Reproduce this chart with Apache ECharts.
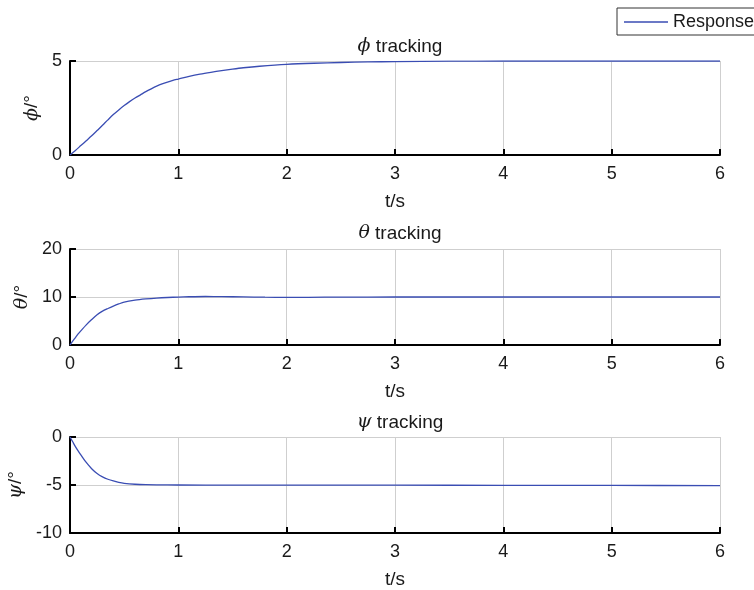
<!DOCTYPE html>
<html><head><meta charset="utf-8">
<script src="https://cdn.jsdelivr.net/npm/echarts@6/dist/echarts.min.js"></script>
<style>html,body{margin:0;padding:0;background:#fff}#c{width:754px;height:590px}</style>
</head><body><div id="c"></div>
<script>
// ---- data ----
const xTicks = [0, 1, 2, 3, 4, 5, 6];
const tPhi   = [0, 0.05, 0.1, 0.15, 0.2, 0.25, 0.3, 0.35, 0.4, 0.45, 0.5, 0.55, 0.6, 0.65, 0.7, 0.75, 0.8, 0.85, 0.9, 0.95, 1.0, 1.1, 1.2, 1.3, 1.4, 1.5, 1.6, 1.75, 2.0, 2.25, 2.5, 2.75, 3.0, 3.5, 4.0, 5.0, 6.0];
const phiVal = [0, 0.24, 0.5, 0.76, 1.02, 1.3, 1.58, 1.87, 2.15, 2.4, 2.63, 2.84, 3.03, 3.2, 3.37, 3.52, 3.66, 3.78, 3.88, 3.97, 4.04, 4.18, 4.3, 4.4, 4.49, 4.57, 4.64, 4.72, 4.82, 4.88, 4.92, 4.95, 4.97, 4.99, 5.0, 5.0, 5.0];
const tTheta   = [0, 0.025, 0.05, 0.075, 0.1, 0.15, 0.2, 0.25, 0.3, 0.35, 0.4, 0.45, 0.5, 0.6, 0.7, 0.8, 0.9, 1.0, 1.1, 1.25, 1.4, 1.6, 1.8, 2.0, 2.2, 2.5, 3.0, 4.0, 5.0, 6.0];
const thetaVal = [0, 0.8, 1.55, 2.3, 2.95, 4.2, 5.3, 6.3, 7.05, 7.6, 8.1, 8.55, 8.95, 9.35, 9.6, 9.78, 9.9, 9.98, 10.05, 10.1, 10.08, 10.02, 9.96, 9.93, 9.94, 9.98, 10.0, 10.0, 10.0, 10.0];
const tPsi   = [0, 0.025, 0.05, 0.075, 0.1, 0.15, 0.2, 0.25, 0.3, 0.35, 0.4, 0.45, 0.5, 0.6, 0.7, 0.8, 1.0, 1.5, 2.0, 3.0, 4.0, 5.0, 6.0];
const psiVal = [0, -0.5, -1.0, -1.45, -1.86, -2.65, -3.3, -3.8, -4.15, -4.4, -4.58, -4.72, -4.82, -4.92, -4.97, -4.99, -5.0, -5.01, -5.01, -5.02, -5.03, -5.04, -5.07];
const yTicksPhi = [0, 5];
const yTicksTheta = [0, 10, 20];
const yTicksPsi = [-10, -5, 0];
const titles = ['ϕ', 'θ', 'ψ'];
const seriesName = 'Response';

const zip = (a, b) => a.map((v, i) => [v, b[i]]);
const FONT = 'Liberation Sans, Arial, Helvetica, sans-serif';
const SERIF = 'DejaVu Serif, Liberation Serif, serif';
const BLUE = '#3a4db3';
const TXT = '#1a1a1a';

const grids = [
  {left: 70, top: 61, width: 650, height: 94, containLabel: false, outerBoundsMode: 'none'},
  {left: 70, top: 249, width: 650, height: 96, containLabel: false, outerBoundsMode: 'none'},
  {left: 70, top: 437, width: 650, height: 96, containLabel: false, outerBoundsMode: 'none'}
];
const yTickSets = [yTicksPhi, yTicksTheta, yTicksPsi];
const yRanges = yTickSets.map(t => ({min: t[0], max: t[t.length - 1], interval: t[1] - t[0]}));

const xAxes = grids.map((g, i) => ({
  type: 'value', gridIndex: i, min: xTicks[0], max: xTicks[xTicks.length - 1], interval: xTicks[1] - xTicks[0],
  name: 't/s', nameLocation: 'middle', nameGap: 37,
  nameTextStyle: {fontFamily: FONT, fontSize: 19, color: TXT},
  axisLine: {show: true, onZero: false, lineStyle: {color: '#000', width: 2}},
  axisTick: {show: true, inside: true, length: 6, lineStyle: {color: '#000', width: 2}},
  axisLabel: {fontFamily: FONT, fontSize: 18, color: TXT, margin: 10},
  splitLine: {show: true, lineStyle: {color: '#cfcfcf', width: 1}}
}));

const yAxes = grids.map((g, i) => ({
  type: 'value', gridIndex: i, ...yRanges[i],
  name: '{i|' + titles[i] + '}/°', nameLocation: 'middle', nameGap: 28,
  nameTextStyle: {fontFamily: FONT, fontSize: 19, color: TXT,
    rich: {i: {fontFamily: SERIF, fontStyle: 'italic', fontSize: 19, color: TXT}}},
  axisLine: {show: true, lineStyle: {color: '#000', width: 2}},
  axisTick: {show: true, inside: true, length: 6, lineStyle: {color: '#000', width: 2}},
  axisLabel: {fontFamily: FONT, fontSize: 18, color: TXT, margin: 8},
  splitLine: {show: true, lineStyle: {color: '#cfcfcf', width: 1}}
}));

const titleTops = [32, 219, 408];
const title = titles.map((s, i) => ({
  text: '{i|' + s + '} tracking', left: 395, top: titleTops[i], textAlign: 'center',
  textStyle: {fontFamily: FONT, fontSize: 19, fontWeight: 'normal', color: TXT,
    rich: {i: {fontFamily: SERIF, fontStyle: 'italic', fontSize: 19, color: TXT}}}
}));

const datasets = [zip(tPhi, phiVal), zip(tTheta, thetaVal), zip(tPsi, psiVal)];
const series = datasets.map((d, i) => ({
  name: seriesName, type: 'line', xAxisIndex: i, yAxisIndex: i, data: d,
  showSymbol: false, symbol: 'none', smooth: 0.3,
  lineStyle: {color: BLUE, width: 1.3}, itemStyle: {color: BLUE}, z: 3
}));

const chart = echarts.init(document.getElementById('c'), null, {renderer: 'canvas'});
chart.setOption({
  animation: false,
  backgroundColor: '#fff',
  title,
  grid: grids,
  xAxis: xAxes,
  yAxis: yAxes,
  legend: {
    data: [seriesName], left: 617, top: 8, orient: 'horizontal',
    padding: [5, 10, 4, 7], itemWidth: 44, itemHeight: 1.5, itemGap: 6,
    icon: 'rect', borderColor: '#333', borderWidth: 1, backgroundColor: '#fff',
    textStyle: {fontFamily: FONT, fontSize: 18, color: TXT, padding: [0, 0, 0, 0]},
    itemStyle: {color: BLUE}
  },
  series
});
</script></body></html>
